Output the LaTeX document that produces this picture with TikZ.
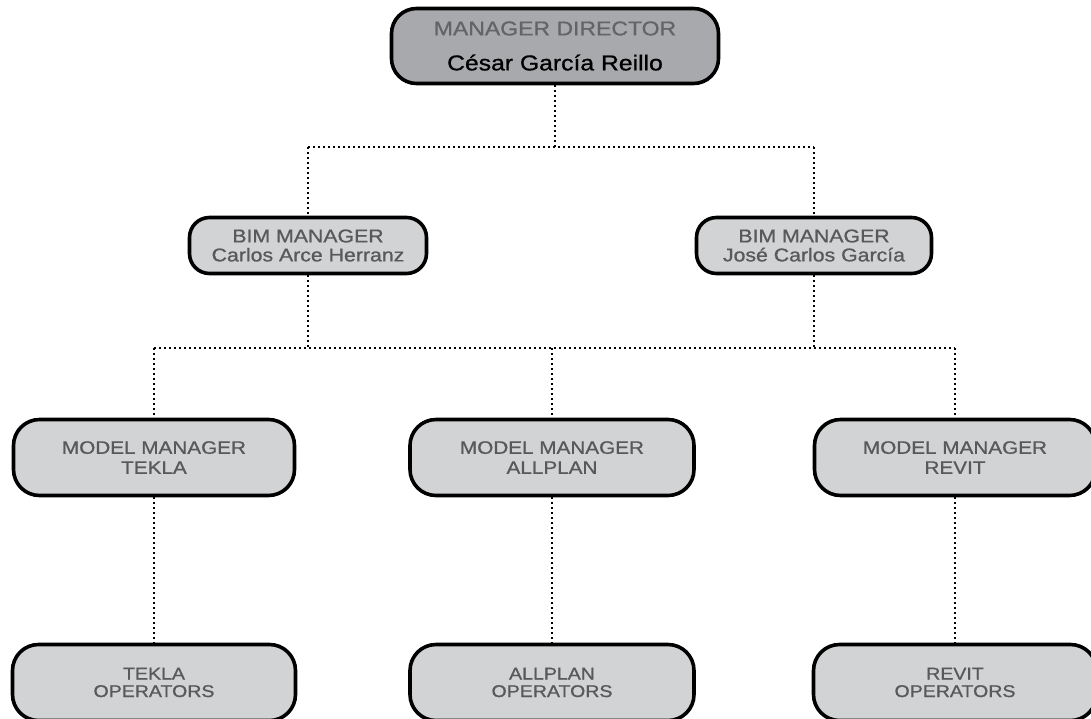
\documentclass[tikz,border=0pt]{standalone}
\usepackage{fontspec}
\newfontfamily\techfont{Liberation Sans}[FakeStretch=1.15,FakeBold=0.9]
\definecolor{boxfill}{HTML}{D1D3D4}
\definecolor{topfill}{HTML}{A7A9AC}
\definecolor{txtgray}{HTML}{58595B}
\definecolor{toptxt}{HTML}{636466}
\begin{document}
\begin{tikzpicture}[x=1pt,y=-1pt,
  orgbox/.style={draw=black, line width=3.6pt, fill=boxfill, rounded corners=#1,
    align=center, text=txtgray, inner sep=0pt},
  orgbox/.default=26pt,
  dotline/.style={line width=2pt, dash pattern=on 2pt off 3pt, black},
  fmm/.style={font=\techfont\fontsize{18}{20}\selectfont},
  fbim/.style={font=\techfont\fontsize{18.5}{19}\selectfont},
  fop/.style={font=\techfont\fontsize{17}{17.5}\selectfont}]
\useasboundingbox (0,0) rectangle (1091,718);
% top
\node[orgbox=25pt, fill=topfill, minimum width=327pt, minimum height=75pt,
  font=\techfont\fontsize{20}{35}\selectfont, text=toptxt] (md) at (555,46)
  {MANAGER DIRECTOR\\\color{black}\fontsize{21.5}{35}\selectfont César García Reillo};
% BIM managers
\node[orgbox=20pt, fbim, minimum width=237pt, minimum height=56pt] (bim1) at (308,245.5)
  {BIM MANAGER\\Carlos Arce Herranz};
\node[orgbox=20pt, fbim, minimum width=235pt, minimum height=56pt] (bim2) at (814,245.5)
  {BIM MANAGER\\José Carlos García};
% model managers
\node[orgbox, fmm, minimum width=281pt, minimum height=76pt] (mm1) at (154,457.5)
  {MODEL MANAGER\\TEKLA};
\node[orgbox, fmm, minimum width=284pt, minimum height=76pt] (mm2) at (552,457.5)
  {MODEL MANAGER\\ALLPLAN};
\node[orgbox, fmm, minimum width=281pt, minimum height=76pt] (mm3) at (955,457.5)
  {MODEL MANAGER\\REVIT};
% operators
\node[orgbox, fop, minimum width=283pt, minimum height=76pt] (op1) at (154,682.5)
  {TEKLA\\OPERATORS};
\node[orgbox, fop, minimum width=284pt, minimum height=76pt] (op2) at (552,682.5)
  {ALLPLAN\\OPERATORS};
\node[orgbox, fop, minimum width=283pt, minimum height=76pt] (op3) at (955,682.5)
  {REVIT\\OPERATORS};
% junction levels
\coordinate (t) at (555,147);
\coordinate (h) at (552,348);
% connectors
\draw[dotline] (md.south) -- (t);
\draw[dotline] (bim1 |- t) -- (bim2 |- t);
\draw[dotline] (bim1 |- t) -- (bim1.north);
\draw[dotline] (bim2 |- t) -- (bim2.north);
\draw[dotline] (bim1.south) -- (bim1 |- h);
\draw[dotline] (bim2.south) -- (bim2 |- h);
\draw[dotline] (mm1 |- h) -- (mm3 |- h);
\draw[dotline] (mm1 |- h) -- (mm1.north);
\draw[dotline] (h) -- (mm2.north);
\draw[dotline] (mm3 |- h) -- (mm3.north);
\draw[dotline] (mm1.south) -- (op1.north);
\draw[dotline] (mm2.south) -- (op2.north);
\draw[dotline] (mm3.south) -- (op3.north);
\end{tikzpicture}
\end{document}
